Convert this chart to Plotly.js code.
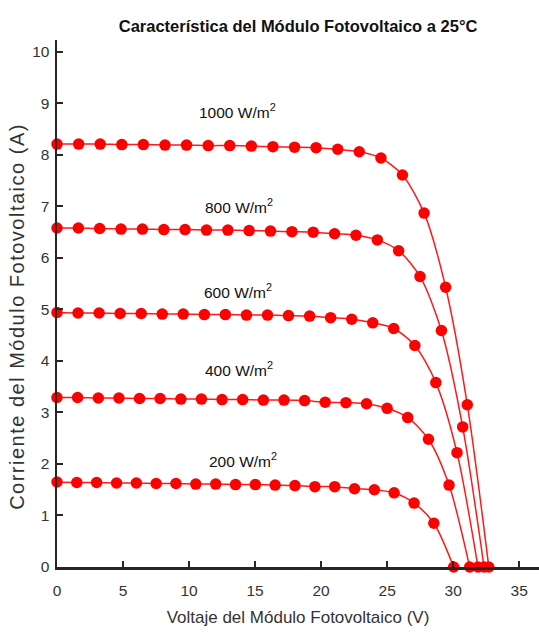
<!DOCTYPE html>
<html>
<head>
<meta charset="utf-8">
<script src="https://cdn.plot.ly/plotly-3.0.1.min.js"></script>
<style>html,body{margin:0;padding:0;background:#fff;}#chart{width:539px;height:632px;}</style>
</head>
<body>
<div id="chart"></div>
<script>
// Voltage (V) for each irradiance curve
const v1000 = [0, 1.64, 3.27, 4.91, 6.54, 8.18, 9.81, 11.45, 13.08, 14.72, 16.35, 17.99, 19.62, 21.26, 22.89, 24.53, 26.16, 27.80, 29.43, 31.07, 32.70];
const v800  = [0, 1.62, 3.23, 4.85, 6.47, 8.09, 9.70, 11.32, 12.94, 14.55, 16.17, 17.79, 19.40, 21.02, 22.64, 24.26, 25.87, 27.49, 29.11, 30.72, 32.34];
const v600  = [0, 1.59, 3.19, 4.78, 6.38, 7.97, 9.56, 11.16, 12.75, 14.35, 15.94, 17.53, 19.13, 20.72, 22.32, 23.91, 25.50, 27.10, 28.69, 30.29, 31.88];
const v400  = [0, 1.56, 3.13, 4.69, 6.25, 7.81, 9.38, 10.94, 12.50, 14.06, 15.63, 17.19, 18.75, 20.31, 21.88, 23.44, 25.00, 26.56, 28.13, 29.69, 31.25];
const v200  = [0, 1.50, 3.00, 4.51, 6.01, 7.51, 9.01, 10.51, 12.02, 13.52, 15.02, 16.52, 18.02, 19.53, 21.03, 22.53, 24.03, 25.53, 27.04, 28.54, 30.04];

// Current (A)
const i1000 = [8.21, 8.21, 8.21, 8.20, 8.20, 8.19, 8.19, 8.18, 8.18, 8.17, 8.16, 8.15, 8.14, 8.11, 8.06, 7.94, 7.61, 6.87, 5.43, 3.15, 0];
const i800  = [6.58, 6.58, 6.57, 6.56, 6.56, 6.55, 6.55, 6.54, 6.54, 6.53, 6.52, 6.51, 6.50, 6.47, 6.44, 6.35, 6.14, 5.64, 4.59, 2.72, 0];
const i600  = [4.94, 4.93, 4.93, 4.92, 4.92, 4.91, 4.91, 4.90, 4.90, 4.89, 4.89, 4.88, 4.87, 4.84, 4.81, 4.74, 4.63, 4.30, 3.58, 2.22, 0];
const i400  = [3.29, 3.29, 3.28, 3.28, 3.27, 3.27, 3.26, 3.26, 3.25, 3.25, 3.24, 3.24, 3.23, 3.20, 3.19, 3.17, 3.08, 2.90, 2.48, 1.59, 0];
const i200  = [1.65, 1.64, 1.64, 1.63, 1.63, 1.62, 1.62, 1.61, 1.61, 1.60, 1.60, 1.59, 1.58, 1.56, 1.56, 1.52, 1.50, 1.44, 1.24, 0.85, 0];

// Curve labels and their anchor positions
const labels = ['1000 W/m<sup>2</sup>', '800 W/m<sup>2</sup>', '600 W/m<sup>2</sup>', '400 W/m<sup>2</sup>', '200 W/m<sup>2</sup>'];
const labelX = [13.7, 13.8, 13.7, 13.8, 14.1];
const labelY = [8.85, 7.0, 5.36, 3.84, 2.08];

const xs = [v1000, v800, v600, v400, v200];
const ys = [i1000, i800, i600, i400, i200];

const traces = xs.map((x, k) => ({
  x: x, y: ys[k], type: 'scatter', mode: 'lines+markers',
  line: {color: '#ff1a1a', width: 1.5, shape: 'spline', smoothing: 0.8},
  marker: {color: '#ff0000', size: 11.5},
  cliponaxis: false, showlegend: false, hoverinfo: 'skip'
}));

const annotations = labels.map((t, k) => ({
  x: labelX[k], y: labelY[k], xref: 'x', yref: 'y', text: t, showarrow: false,
  font: {family: 'Liberation Sans, Arial, sans-serif', size: 15.5, color: '#111'}
}));

const axisColor = '#262626';
const layout = {
  width: 539, height: 632,
  margin: {l: 57, r: 0, t: 40, b: 65},
  paper_bgcolor: '#fff', plot_bgcolor: '#fff',
  font: {family: 'Liberation Sans, Arial, sans-serif', color: '#333'},
  title: {text: '<b>Característica del Módulo Fotovoltaico a 25°C</b>', x: 0.553, xanchor: 'center', y: 0.958, yanchor: 'middle',
          font: {size: 16.5, color: '#111', family: 'Liberation Sans, Arial, sans-serif'}},
  xaxis: {
    range: [0, 36.5], tickvals: [0, 5, 10, 15, 20, 25, 30, 35],
    showgrid: false, zeroline: false, showline: true, linecolor: axisColor, linewidth: 2.5,
    ticks: 'inside', ticklen: 6, tickwidth: 2, tickcolor: axisColor,
    ticklabelstandoff: 8,
    tickfont: {size: 15.5, color: '#333'},
    title: {text: 'Voltaje del Módulo Fotovoltaico (V)', font: {size: 17, color: '#333'}, standoff: 13}
  },
  yaxis: {
    range: [0, 10.23], tickvals: [0, 1, 2, 3, 4, 5, 6, 7, 8, 9, 10],
    showgrid: false, zeroline: false, showline: true, linecolor: axisColor, linewidth: 2.5,
    ticks: 'inside', ticklen: 6, tickwidth: 2, tickcolor: axisColor,
    ticklabelstandoff: 2,
    tickfont: {size: 15.5, color: '#333'},
    title: {text: 'Corriente del Módulo Fotovoltaico (A)', font: {size: 20, color: '#333'}, standoff: 8}
  },
  annotations: annotations
};

Plotly.newPlot('chart', traces, layout, {displayModeBar: false, staticPlot: true}).then(function () {
  var yt = document.querySelector('#chart .ytitle');
  if (yt) {
    yt.setAttribute('letter-spacing', '1.5px');
    var tr = yt.getAttribute('transform') || '';
    yt.setAttribute('transform', 'translate(6,13) ' + tr);
  }
});
</script>
</body>
</html>
